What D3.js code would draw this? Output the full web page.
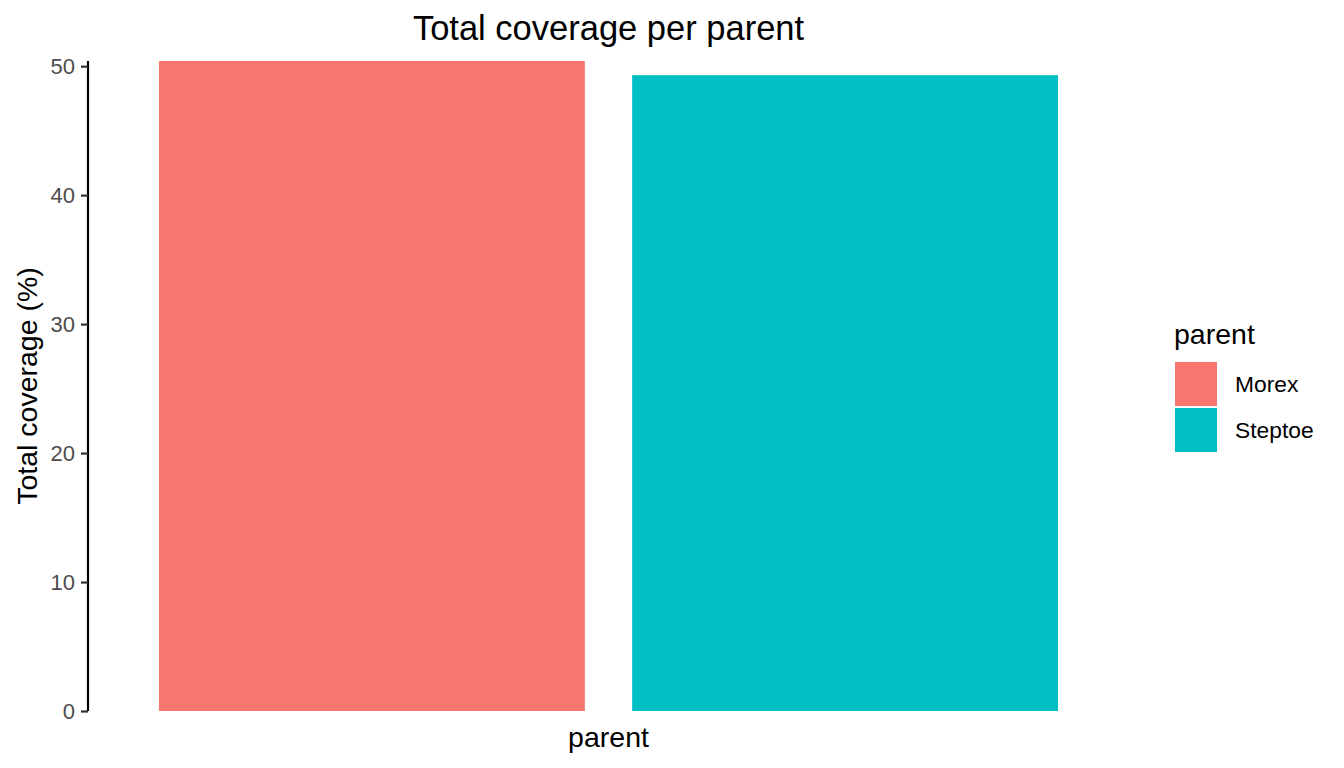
<!DOCTYPE html>
<html>
<head>
<meta charset="utf-8">
<script src="https://cdn.jsdelivr.net/npm/d3@7"></script>
<style>
  html, body { margin: 0; padding: 0; background: #fff; }
  svg { display: block; font-family: "Liberation Sans", Arial, Helvetica, sans-serif; }
</style>
</head>
<body>
<svg id="chart" width="1344" height="768"></svg>
<script>
// ---- data ----
const categories = ["Morex", "Steptoe"];
const coverage = [50.4, 49.3];
const colors = ["#F8766D", "#00BFC4"];
const yTicks = [0, 10, 20, 30, 40, 50];
const titleText = "Total coverage per parent";
const xTitle = "parent";
const yTitle = "Total coverage (%)";
const legendTitle = "parent";

// ---- layout ----
const svg = d3.select("#chart");
const panel = { left: 88, right: 1129, top: 61, bottom: 711 };

const x = d3.scaleBand()
  .domain(categories)
  .range([panel.left, panel.right])
  .paddingInner(0.1)
  .paddingOuter(0.15);

const y = d3.scaleLinear()
  .domain([0, d3.max(coverage)])
  .range([panel.bottom, panel.top]);

const color = d3.scaleOrdinal().domain(categories).range(colors);

// bars
svg.append("g").selectAll("rect")
  .data(categories.map((c, i) => ({ c, v: coverage[i] })))
  .join("rect")
  .attr("x", d => x(d.c))
  .attr("width", x.bandwidth())
  .attr("y", d => y(d.v))
  .attr("height", d => y(0) - y(d.v))
  .attr("fill", d => color(d.c));

// y axis
const yAxis = d3.axisLeft(y).tickValues(yTicks).tickSize(7).tickPadding(6).tickFormat(d3.format("d"));
const gy = svg.append("g").attr("transform", `translate(${panel.left},0)`).call(yAxis);
gy.select(".domain").attr("stroke", "#000").attr("stroke-width", 2.2).attr("d", `M0,${panel.top}V${panel.bottom}`);
gy.selectAll(".tick line").attr("stroke", "#333").attr("stroke-width", 2.2);
gy.selectAll(".tick text")
  .attr("fill", "#4d4d4d")
  .style("font-size", "22px")
  .attr("font-family", "Liberation Sans, Arial, sans-serif");

// title
const cx = (panel.left + panel.right) / 2;
svg.append("text")
  .attr("x", cx).attr("y", 40)
  .attr("text-anchor", "middle")
  .style("font-size", "34.5px")
  .attr("fill", "#000")
  .text(titleText);

// x axis title
svg.append("text")
  .attr("x", cx).attr("y", 747)
  .attr("text-anchor", "middle")
  .style("font-size", "28.5px")
  .attr("fill", "#000")
  .text(xTitle);

// y axis title
svg.append("text")
  .attr("transform", `translate(37,${(panel.top + panel.bottom) / 2}) rotate(-90)`)
  .attr("text-anchor", "middle")
  .style("font-size", "28.5px")
  .attr("fill", "#000")
  .text(yTitle);

// legend
const lg = svg.append("g");
lg.append("text")
  .attr("x", 1174).attr("y", 344)
  .style("font-size", "28.5px")
  .attr("fill", "#000")
  .text(legendTitle);
const keyH = 46, keyTop = 361;
categories.forEach((c, i) => {
  const ky = keyTop + i * keyH;
  lg.append("rect")
    .attr("x", 1174).attr("y", ky)
    .attr("width", 44).attr("height", 46)
    .attr("fill", color(c))
    .attr("stroke", "#fff").attr("stroke-width", 2);
  lg.append("text")
    .attr("x", 1235).attr("y", ky + keyH / 2 + 8)
    .style("font-size", "22.8px")
    .attr("fill", "#000")
    .text(c);
});
</script>
</body>
</html>
